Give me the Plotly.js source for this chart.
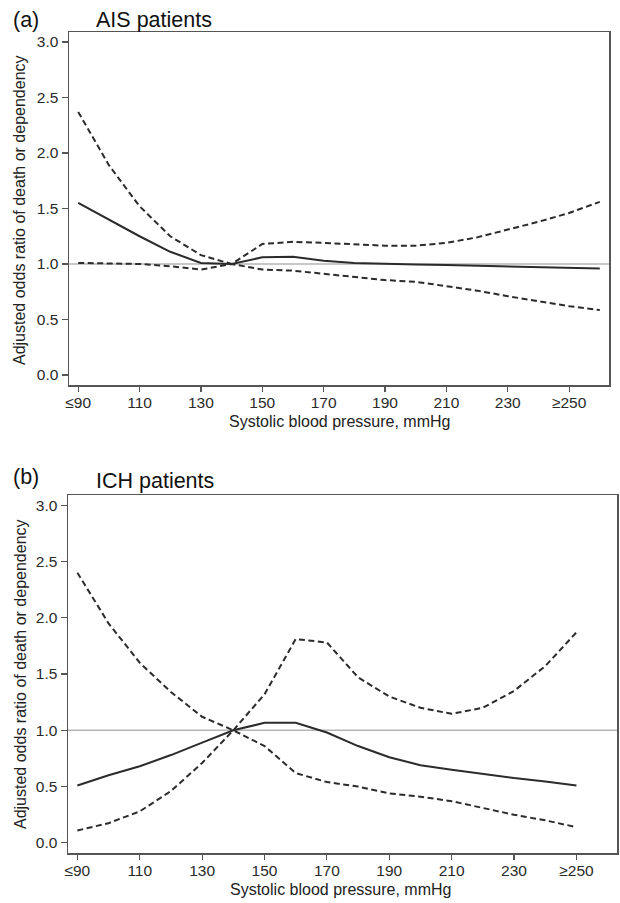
<!DOCTYPE html>
<html>
<head>
<meta charset="utf-8">
<script src="https://cdn.plot.ly/plotly-3.0.1.min.js"></script>
<style>html,body{margin:0;padding:0;background:#fff;}#chart{width:620px;height:903px;}</style>
</head>
<body>
<div id="chart"></div>
<script>
// Systolic blood pressure (mmHg)
const sbpAIS = [90,100,110,120,130,140,150,160,170,180,190,200,210,220,230,240,250,260];
const aisOR    = [1.55,1.40,1.25,1.11,1.01,1.00,1.06,1.065,1.03,1.01,1.00,0.995,0.99,0.985,0.98,0.975,0.97,0.96];
const aisUpper = [2.37,1.89,1.52,1.25,1.08,1.00,1.18,1.20,1.19,1.18,1.165,1.165,1.19,1.24,1.31,1.38,1.46,1.56];
const aisLower = [1.01,1.005,1.00,0.98,0.95,1.00,0.95,0.94,0.91,0.88,0.855,0.84,0.80,0.76,0.71,0.665,0.62,0.585];

const sbpICH = [90,100,110,120,130,140,150,160,170,180,190,200,210,220,230,240,250];
const ichOR    = [0.51,0.60,0.68,0.78,0.89,1.00,1.066,1.066,0.98,0.86,0.76,0.69,0.65,0.61,0.576,0.546,0.51];
const ichUpper = [0.11,0.175,0.28,0.46,0.71,1.00,1.32,1.81,1.78,1.47,1.30,1.20,1.146,1.20,1.35,1.57,1.87];
const ichLower = [2.40,1.95,1.60,1.34,1.12,1.00,0.86,0.62,0.54,0.50,0.44,0.41,0.37,0.31,0.25,0.20,0.14];

const tickVals = [90,110,130,150,170,190,210,230,250];
const tickText = ['≤90','110','130','150','170','190','210','230','≥250'];
const yTicks = [0,0.5,1,1.5,2,2.5,3];

const refX = [0, 400];
const refY = [1, 1];

const dark = '#2b2b2b';
const frame = '#555555';

function line(x, y, xa, ya, dash) {
  return {x: x, y: y, xaxis: xa, yaxis: ya, type: 'scatter', mode: 'lines',
          line: {color: dark, width: 2, dash: dash ? '6px,3.5px' : 'solid'},
          hoverinfo: 'skip', showlegend: false};
}
function ref(xa, ya) {
  return {x: refX, y: refY, xaxis: xa, yaxis: ya, type: 'scatter', mode: 'lines',
          line: {color: '#b5b5b5', width: 1.5}, hoverinfo: 'skip', showlegend: false};
}

const data = [
  ref('x','y'),
  line(sbpAIS, aisUpper, 'x', 'y', true),
  line(sbpAIS, aisLower, 'x', 'y', true),
  line(sbpAIS, aisOR, 'x', 'y', false),
  ref('x2','y2'),
  line(sbpICH, ichUpper, 'x2', 'y2', true),
  line(sbpICH, ichLower, 'x2', 'y2', true),
  line(sbpICH, ichOR, 'x2', 'y2', false)
];

const tf = {family: 'Liberation Sans, Arial, sans-serif', size: 15.5, color: '#2a2a2a'};

function xaxis(domain, anchor) {
  return {domain: domain, anchor: anchor, range: [87, 263], tickvals: tickVals, ticktext: tickText,
          showgrid: false, zeroline: false, showline: true, mirror: true, linecolor: frame, linewidth: 1.5,
          ticks: 'outside', ticklen: 5, tickwidth: 1.2, tickcolor: frame, tickfont: tf, ticklabelstandoff: -2};
}
function yaxis(domain, anchor) {
  return {domain: domain, anchor: anchor, range: [-0.09, 3.09], tickvals: yTicks, tickformat: '.1f',
          showgrid: false, zeroline: false, showline: true, mirror: true, linecolor: frame, linewidth: 1.5,
          ticks: 'outside', ticklen: 6, tickwidth: 1.2, tickcolor: frame, tickfont: tf};
}

const W = 620, H = 903;
const px = v => v / W;
const py = v => 1 - v / H;
const titleFont = {family: 'Liberation Sans, Arial, sans-serif', size: 16, color: '#222'};
const headFont = {family: 'Liberation Sans, Arial, sans-serif', size: 21.5, color: '#111'};

const annotations = [
  {text: '(a)', x: px(11), y: py(20), xref: 'paper', yref: 'paper', xanchor: 'left', yanchor: 'middle', showarrow: false, font: headFont},
  {text: 'AIS patients', x: px(94), y: py(20), xref: 'paper', yref: 'paper', xanchor: 'left', yanchor: 'middle', showarrow: false, font: headFont},
  {text: '(b)', x: px(11), y: py(477), xref: 'paper', yref: 'paper', xanchor: 'left', yanchor: 'middle', showarrow: false, font: headFont},
  {text: 'ICH patients', x: px(94), y: py(481), xref: 'paper', yref: 'paper', xanchor: 'left', yanchor: 'middle', showarrow: false, font: headFont},
  {text: 'Adjusted odds ratio of death or dependency', x: px(20), y: py(210), xref: 'paper', yref: 'paper', xanchor: 'center', yanchor: 'middle', textangle: -90, showarrow: false, font: titleFont},
  {text: 'Adjusted odds ratio of death or dependency', x: px(20), y: py(674), xref: 'paper', yref: 'paper', xanchor: 'center', yanchor: 'middle', textangle: -90, showarrow: false, font: titleFont},
  {text: 'Systolic blood pressure, mmHg', x: px(339), y: py(421), xref: 'paper', yref: 'paper', xanchor: 'center', yanchor: 'middle', showarrow: false, font: titleFont},
  {text: 'Systolic blood pressure, mmHg', x: px(340), y: py(889), xref: 'paper', yref: 'paper', xanchor: 'center', yanchor: 'middle', showarrow: false, font: titleFont}
];

const layout = {
  width: W, height: H,
  margin: {l: 0, r: 0, t: 0, b: 0},
  paper_bgcolor: '#fff', plot_bgcolor: '#fff',
  showlegend: false,
  xaxis: xaxis([69/W, 609/W], 'y'),
  yaxis: yaxis([1 - 385/H, 1 - 32/H], 'x'),
  xaxis2: xaxis([68/W, 617/W], 'y2'),
  yaxis2: yaxis([1 - 853/H, 1 - 495/H], 'x2'),
  annotations: annotations
};

Plotly.newPlot('chart', data, layout, {staticPlot: true, displayModeBar: false});
</script>
</body>
</html>
